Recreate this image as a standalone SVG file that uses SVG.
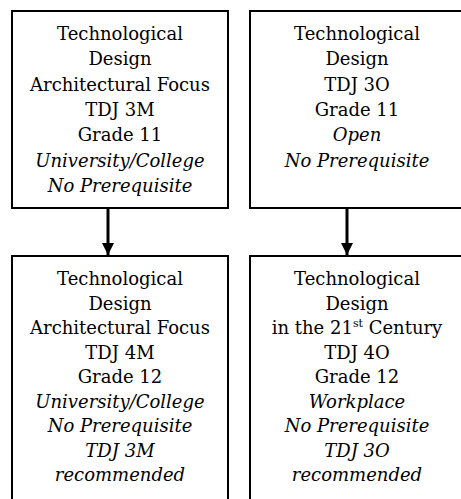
<svg xmlns="http://www.w3.org/2000/svg" width="461" height="499" viewBox="0 0 461 499">
<style>
.box{fill:#fff;stroke:#000;stroke-width:2}
text{font-family:'DejaVu Serif',serif;font-size:18px;fill:#000;text-anchor:middle}
.i{font-style:italic}
.conn{stroke:#000;stroke-width:3;fill:none}
</style>
<defs>
<marker id="ah" viewBox="0 0 12 12" refX="12" refY="6" markerWidth="12" markerHeight="12" markerUnits="userSpaceOnUse" orient="auto">
<path d="M0,0 L12,6 L0,12 Z" fill="#000"/>
</marker>
</defs>
<rect width="461" height="499" fill="#fff"/>
<g id="connectors">
<line class="conn" x1="108" y1="208" x2="108" y2="255" marker-end="url(#ah)"/>
<line class="conn" x1="347" y1="208" x2="347" y2="255" marker-end="url(#ah)"/>
</g>
<g id="tdj3m">
<rect class="box" x="12" y="11" width="216" height="197"/>
<text x="120" y="40">Technological</text>
<text x="120" y="65.3">Design</text>
<text x="120" y="90.6">Architectural Focus</text>
<text x="120" y="115.9">TDJ 3M</text>
<text x="120" y="141.2">Grade 11</text>
<text x="120" y="166.5" class="i">University/College</text>
<text x="120" y="191.8" class="i">No Prerequisite</text>
</g>
<g id="tdj3o">
<rect class="box" x="250" y="11" width="220" height="197"/>
<text x="357" y="40">Technological</text>
<text x="357" y="65.3">Design</text>
<text x="357" y="90.6">TDJ 3O</text>
<text x="357" y="115.9">Grade 11</text>
<text x="357" y="141.2" class="i">Open</text>
<text x="357" y="166.5" class="i">No Prerequisite</text>
</g>
<g id="tdj4m">
<rect class="box" x="12" y="256" width="216" height="260"/>
<text x="120" y="285">Technological</text>
<text x="120" y="309.5">Design</text>
<text x="120" y="334">Architectural Focus</text>
<text x="120" y="358.5">TDJ 4M</text>
<text x="120" y="383">Grade 12</text>
<text x="120" y="407.5" class="i">University/College</text>
<text x="120" y="432" class="i">No Prerequisite</text>
<text x="120" y="456.5" class="i">TDJ 3M</text>
<text x="120" y="481" class="i">recommended</text>
</g>
<g id="tdj4o">
<rect class="box" x="250" y="256" width="220" height="260"/>
<text x="357" y="285">Technological</text>
<text x="357" y="309.5">Design</text>
<text x="357" y="334">in the 21<tspan font-size="11" dy="-7">st</tspan><tspan dy="7"> Century</tspan></text>
<text x="357" y="358.5">TDJ 4O</text>
<text x="357" y="383">Grade 12</text>
<text x="357" y="407.5" class="i">Workplace</text>
<text x="357" y="432" class="i">No Prerequisite</text>
<text x="357" y="456.5" class="i">TDJ 3O</text>
<text x="357" y="481" class="i">recommended</text>
</g>
</svg>
